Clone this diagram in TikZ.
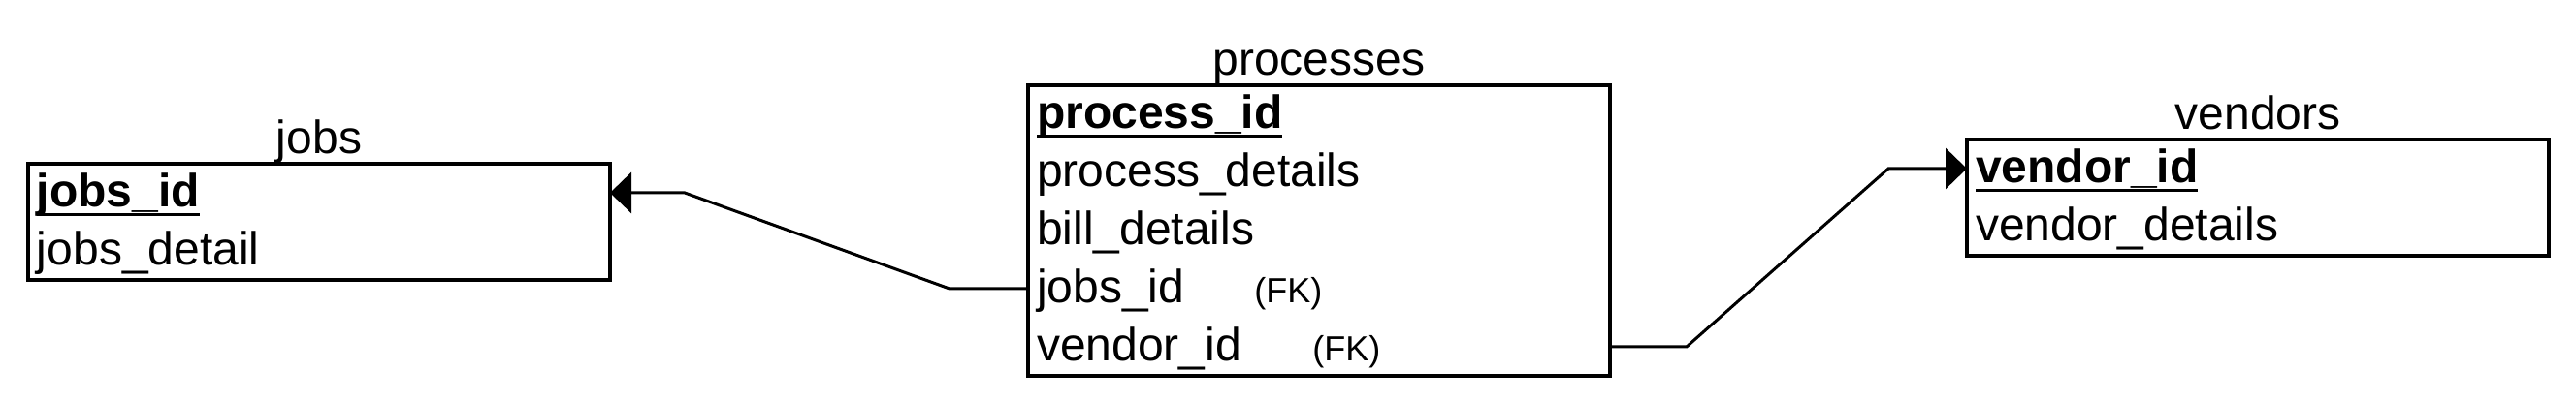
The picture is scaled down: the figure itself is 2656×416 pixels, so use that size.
\documentclass[tikz,border=0pt]{standalone}
\usepackage{fontspec}
\setmainfont{Liberation Sans}
\usetikzlibrary{arrows.meta,positioning,fit,calc}
\newcommand\keyul[1]{\setbox0\hbox{\bfseries #1}\rlap{\rule[-5pt]{\wd0}{1.8pt}}\box0}
\begin{document}
\begin{tikzpicture}[x=0.5pt,y=-0.5pt,
  row/.style={minimum width=300pt, minimum height=30pt, inner xsep=4.5pt, inner ysep=0pt,
    outer sep=0pt, text width=291pt, align=left, text height=18.4pt, text depth=4pt,
    font=\fontsize{24pt}{28pt}\selectfont},
  tbl/.style={draw, line width=1.7pt, inner sep=0pt},
  title/.style={anchor=base, inner sep=0pt, font=\fontsize{24pt}{28pt}\selectfont},
  fk/.style={anchor=base west, inner sep=0pt, font=\fontsize{18pt}{21pt}\selectfont},
  rel/.style={line width=1.5pt, -{Triangle[length=11pt,width=21pt]}}]
\useasboundingbox (0,0) rectangle (2656,416);
% jobs
\node[row, anchor=north west] (j1) at (29,169) {\keyul{jobs\_id}};
\node[row, below=0pt of j1] (j2) {jobs\_detail};
\node[tbl, fit=(j1)(j2)] (jobs) {};
\node[title] (jt) at ([yshift=4.5pt]jobs.north) {jobs};
% processes
\node[row, anchor=north west] (p1) at (1060,88) {\keyul{process\_id}};
\node[row, below=0pt of p1] (p2) {process\_details};
\node[row, below=0pt of p2] (p3) {bill\_details};
\node[row, below=0pt of p3] (p4) {jobs\_id};
\node[row, below=0pt of p4] (p5) {vendor\_id};
\node[tbl, fit=(p1)(p5)] (proc) {};
\node[title] (pt) at ([yshift=4.5pt]proc.north) {processes};
\node[fk] (fk1) at ([xshift=116.5pt]p4.base west) {(FK)};
\node[fk] (fk2) at ([xshift=146.5pt]p5.base west) {(FK)};
% vendors
\node[row, anchor=north west] (v1) at (2028,144) {\keyul{vendor\_id}};
\node[row, below=0pt of v1] (v2) {vendor\_details};
\node[tbl, fit=(v1)(v2)] (vend) {};
\node[title] (vt) at ([yshift=4.5pt]vend.north) {vendors};
% relations
\draw[rel] (p4.west) -- ++(-40.5pt,0) -- ($(j1.east)+(38.5pt,0)$) -- (j1.east);
\draw[rel] (p5.east) -- ++(39.5pt,0) -- ($(v1.west)+(-40.5pt,0)$) -- (v1.west);
\end{tikzpicture}
\end{document}
